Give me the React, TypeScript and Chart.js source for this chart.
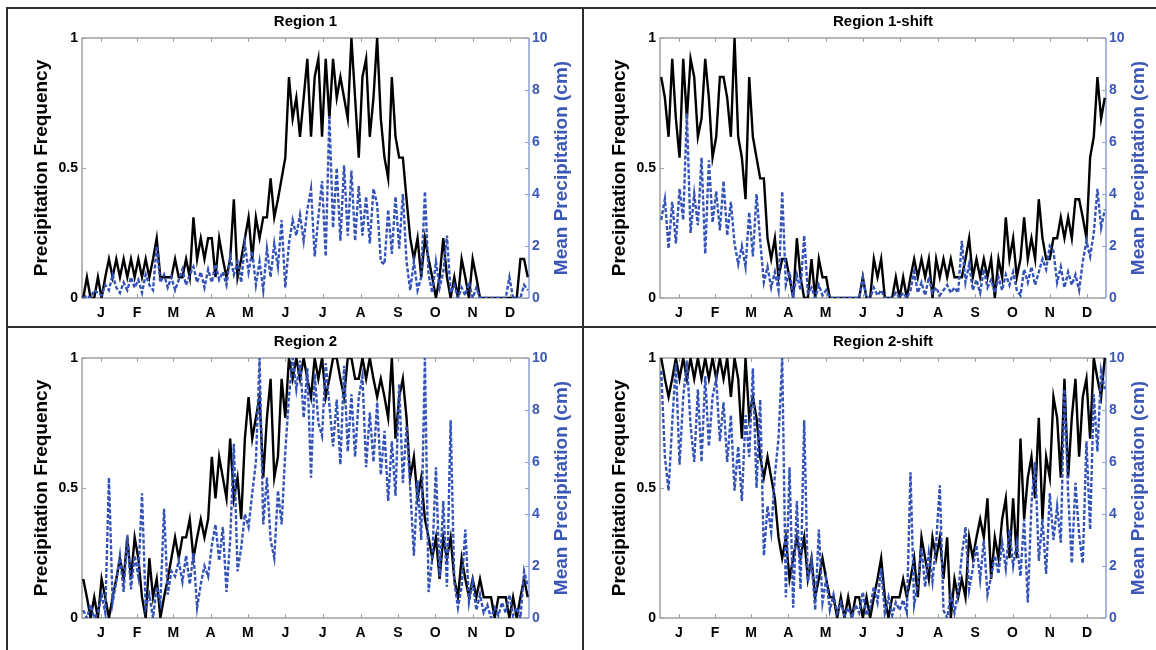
import React, { useEffect, useRef } from 'react';
import { Chart, registerables } from 'chart.js';

Chart.register(...registerables);

// ---------- data ----------
const monthLabels = ['J', 'F', 'M', 'A', 'M', 'J', 'J', 'A', 'S', 'O', 'N', 'D'];
const monthMidDays = [15.5, 45, 74.5, 105, 135.5, 166, 196.5, 227.5, 258, 288.5, 319, 349.5];
const freqTicks = [0, 0.5, 1];
const freqTickLabels = ['0', '0.5', '1'];
const precipTicks = [0, 2, 4, 6, 8, 10];
const sampleStepDays = 3; // one value every 3 days, starting Jan 1

const region1Freq = [
  0, .08, 0, 0, .08, 0, .08, .15, .08, .15, .08, .15, .08, .15, .08, .15, .08, .15, .08, .15,
  .23, .08, .08, .08, .08, .15, .08, .08, .15, .08, .31, .15, .23, .15, .23, .23, .08, .23, .15, .08,
  .15, .38, .08, .15, .23, .31, .15, .31, .23, .31, .31, .46, .31, .38, .46, .54, .85, .69, .77, .62,
  .77, .92, .62, .85, .92, .62, .92, .69, .92, .77, .85, .77, .69, 1, .77, .54, .85, .92, .62, .77,
  1, .69, .54, .46, .85, .62, .54, .54, .38, .23, .15, .23, .08, .23, .15, .08, 0, .08, .23, .08,
  0, .08, 0, .15, .08, 0, .15, .08, 0, 0, 0, 0, 0, 0, 0, 0, 0, 0, 0, .15,
  .15, .08,
];
const region1Precip = [
  0, .1, 0, .3, .2, .1, .5, .3, .9, .4, .2, .6, .3, .8, .4, .7, .2, .9, .5, .3,
  2.0, .6, .9, .4, .8, .3, .7, 1.1, .5, .9, 1.2, .6, 1.0, .4, 1.1, .6, 1.3, .7, 1.0, .5,
  1.6, .9, 1.4, .6, 2.1, 1.0, 1.8, .5, 1.4, .3, 1.9, .8, 2.1, 1.2, 3.0, .4, 2.1, 3.0, 2.4, 3.2,
  2.2, 3.4, 4.2, 1.6, 3.1, 4.5, 1.6, 7.0, 2.7, 5.0, 2.2, 5.1, 2.4, 4.9, 2.2, 4.3, 2.4, 3.9, 2.1, 4.2,
  3.6, 1.4, 1.3, 3.4, 1.7, 3.9, 1.9, 4.0, 1.4, .3, 1.4, .3, .8, 4.1, .9, .2, 1.4, .4, 1.0, 2.4,
  .2, .5, 0, .4, .1, .6, 0, .4, 0, 0, 0, 0, 0, 0, 0, 0, .8, 0, 0, 0,
  .5, .3,
];

const region1ShiftFreq = [
  .85, .77, .62, .92, .69, .54, .92, .69, .92, .85, .62, .69, .92, .77, .54, .62, .85, .85, .77, .62,
  1, .62, .54, .38, .85, .62, .54, .46, .46, .23, .15, .23, .08, .15, .15, .08, 0, .23, .08, 0,
  0, .15, 0, .15, .08, .08, 0, 0, 0, 0, 0, 0, 0, 0, 0, .08, 0, 0, .15, .08,
  .15, 0, 0, 0, .08, 0, .08, 0, .08, .15, .08, .15, .08, .15, 0, .15, .08, .15, .08, .15,
  .08, .08, .08, .15, .23, .08, .15, .08, .15, .08, .15, 0, .15, .08, .31, .15, .23, .08, .15, .31,
  .15, .23, .15, .38, .23, .15, .15, .23, .23, .31, .23, .31, .23, .38, .38, .31, .23, .54, .62, .85,
  .69, .77,
];
const region1ShiftPrecip = [
  3.0, 3.8, 1.9, 3.7, 2.1, 4.2, 3.0, 7.1, 2.5, 4.0, 2.8, 5.4, 1.7, 5.3, 2.9, 4.1, 2.6, 4.5, 2.4, 3.7,
  2.1, 1.3, 2.0, 1.2, 3.3, 1.6, 4.0, 2.2, .6, 1.2, .4, 1.0, .3, 4.1, .5, 1.0, .1, .9, .3, 2.4,
  .2, .4, 0, .5, .1, .3, 0, 0, 0, 0, 0, 0, 0, 0, 0, .8, 0, 0, .4, .1,
  .3, 0, 0, 0, .2, 0, .2, 0, .3, 1.0, .2, .6, .1, .8, .2, .4, .1, .3, .5, .2,
  .4, .2, 2.2, .6, 1.3, .3, .7, .2, 1.1, .4, .7, .2, .8, .3, .9, .5, 1.0, .3, .1, 1.1,
  .6, 1.2, .5, 1.0, 1.5, 1.1, 2.0, 1.8, .6, 1.2, .4, 1.0, .5, .9, .3, 1.4, 2.2, 1.6, 2.5, 4.2,
  2.7, 3.4,
];

const region2Freq = [
  .15, .08, 0, .08, 0, .15, .08, 0, .08, .15, .23, .15, .31, .15, .31, .23, .08, 0, .23, .08,
  .15, 0, .08, .15, .23, .31, .23, .31, .31, .38, .23, .31, .38, .31, .38, .62, .46, .62, .54, .46,
  .69, .46, .54, .38, .69, .85, .69, .77, .85, .54, .77, .92, .54, .62, .92, .77, 1, .92, 1, .92,
  1, .92, .85, 1, .92, 1, .85, .92, 1, 1, .92, .85, 1, 1, .92, .92, 1, .92, 1, .92,
  .85, .92, .85, .77, 1, .69, .85, .92, .77, .54, .62, .46, .54, .38, .31, .23, .31, .15, .31, .23,
  .31, .15, .08, .23, .15, .08, .15, .08, .15, .08, .08, .08, 0, .08, .08, .08, 0, .08, 0, .08,
  .15, .08,
];
const region2Precip = [
  .3, 0, .5, 0, .2, .9, .2, 5.4, .6, 1.4, 2.4, 1.0, 3.2, 1.1, 2.4, 1.6, 4.8, .4, .9, 0,
  1.2, .6, 4.2, .9, 1.8, 1.6, 2.2, 1.4, 2.4, 1.3, 2.5, .4, 1.3, 2.0, 1.6, 2.8, 3.6, 2.2, 3.5, 1.0,
  3.0, 6.7, 1.8, 2.7, 4.0, 3.5, 4.8, 6.0, 10, 3.6, 5.4, 3.0, 2.3, 4.9, 3.6, 6.4, 8.5, 10, 8.8, 9.9,
  7.7, 9.6, 5.4, 9.4, 7.5, 7.0, 9.8, 8.2, 6.6, 8.4, 5.9, 9.7, 6.4, 8.6, 6.2, 8.5, 9.3, 5.8, 7.9, 6.0,
  8.3, 5.5, 7.2, 4.5, 6.8, 4.7, 9.0, 5.2, 7.4, 5.0, 2.4, 5.3, 3.0, 10, 1.0, 2.3, 5.8, 1.6, 4.5, 1.2,
  7.6, 1.4, .4, 1.2, 3.4, .6, 1.4, .3, .9, .2, .5, 0, .4, .1, .6, .2, .9, .1, .4, 0,
  1.8, 1.2,
];

const region2ShiftFreq = [
  1, .92, .85, .92, 1, .92, 1, .92, 1, .92, 1, .92, 1, .92, 1, .92, 1, .92, 1, .85,
  1, .92, .69, 1, .77, .85, .77, .62, .54, .62, .54, .46, .31, .23, .31, .15, .23, .31, .23, .31,
  .15, .23, .08, .15, .23, .15, .08, .08, 0, .08, 0, .08, 0, .08, .08, 0, .08, 0, .08, .15,
  .23, .08, 0, .08, .08, .08, .15, .08, .15, .23, .08, .31, .23, .15, .31, .23, .31, .15, .31, 0,
  .15, .08, .15, .08, .31, .23, .31, .38, .31, .46, .15, .31, .23, .38, .46, .23, .46, .23, .69, .38,
  .54, .62, .46, .77, .38, .62, .54, .85, .77, .54, .92, .54, .77, .92, .62, .85, .92, .69, 1, .92,
  .85, 1,
];
const region2ShiftPrecip = [
  9.5, 6.2, 4.9, 7.5, 9.8, 5.9, 8.5, 9.9, 7.4, 6.0, 8.8, 6.0, 9.3, 6.6, 8.5, 9.2, 6.8, 8.3, 6.0, 7.8,
  4.9, 6.6, 4.5, 7.8, 6.2, 9.6, 5.0, 8.4, 2.4, 4.3, 3.3, 5.5, 6.9, 10, .8, 5.8, .4, 4.5, 1.1, 7.6,
  1.4, 2.2, .3, 3.4, .6, 1.5, .3, .9, .2, .6, .1, .4, 0, .5, .2, 1.0, .1, .4, 1.2, .6,
  1.9, .2, .8, .1, .6, .3, .7, .2, 5.6, .5, 1.3, 2.7, 1.2, 2.5, 1.4, 2.9, 5.1, .3, 0, .9,
  .2, 1.0, 2.4, 3.5, 1.1, 1.9, 2.8, 1.5, 3.0, .9, 1.6, 2.4, 1.7, 2.9, 1.9, 3.4, 2.0, 2.9, 1.6, 3.8,
  .6, 4.4, 6.0, 2.2, 3.8, 1.7, 4.8, 3.0, 4.3, 2.9, 8.8, 4.8, 2.1, 5.2, 3.2, 2.1, 6.8, 3.4, 8.6, 6.4,
  9.5, 8.8,
];

// ---------- style ----------
const FONT = 'Arial, "Liberation Sans", Helvetica, sans-serif';
const LINE_BLUE = '#3453b8';
const TEXT_BLUE = '#3b58b6';
const AXIS_BLUE = '#8e9fd6';
const FRAME_GRAY = '#a0a0a0';

const decorPlugin = {
  id: 'decor',
  beforeDatasetsDraw(chart: any) {
    const { ctx, chartArea } = chart;
    const { left, right, top, bottom } = chartArea;
    const xs = chart.scales.x;
    const yL = chart.scales.y;
    const yR = chart.scales.y1;
    const seg = (x1: number, y1: number, x2: number, y2: number) => {
      ctx.beginPath();
      ctx.moveTo(x1, y1);
      ctx.lineTo(x2, y2);
      ctx.stroke();
    };
    ctx.save();
    ctx.lineWidth = 1.5;
    ctx.strokeStyle = FRAME_GRAY;
    ctx.beginPath();
    ctx.moveTo(right, top);
    ctx.lineTo(left, top);
    ctx.lineTo(left, bottom);
    ctx.lineTo(right, bottom);
    ctx.stroke();
    ctx.lineWidth = 1;
    monthMidDays.forEach((d) => {
      const x = Math.round(xs.getPixelForValue(d)) + 0.5;
      seg(x, top, x, top + 4);
      seg(x, bottom, x, bottom - 4);
    });
    freqTicks.forEach((v) => {
      const y = Math.round(yL.getPixelForValue(v)) + 0.5;
      seg(left, y, left + 4, y);
      seg(right - 4, y, right, y);
    });
    ctx.strokeStyle = AXIS_BLUE;
    precipTicks.forEach((v) => {
      const y = Math.round(yR.getPixelForValue(v)) + 0.5;
      seg(right - 4, y, right, y);
    });
    ctx.lineWidth = 1.5;
    seg(right, top, right, bottom);
    ctx.restore();
  },
  afterDraw(chart: any, _args: any, opts: any) {
    const { ctx, chartArea } = chart;
    const { left, right, top, bottom } = chartArea;
    const midY = (top + bottom) / 2;
    ctx.save();
    ctx.textAlign = 'center';
    ctx.textBaseline = 'middle';
    ctx.fillStyle = '#000';
    ctx.font = `bold 15px ${FONT}`;
    ctx.fillText(opts.title, (left + right) / 2, top - 16);

    ctx.font = `bold 19px ${FONT}`;
    ctx.save();
    ctx.translate(left - 40, midY);
    ctx.rotate(-Math.PI / 2);
    ctx.fillStyle = '#000';
    ctx.fillText('Precipitation Frequency', 0, 0);
    ctx.restore();

    ctx.save();
    ctx.translate(right + 33, midY);
    ctx.rotate(-Math.PI / 2);
    ctx.fillStyle = TEXT_BLUE;
    ctx.fillText('Mean Precipitation (cm)', 0, 0);
    ctx.restore();
    ctx.restore();
  },
};

type PanelProps = {
  title: string;
  freq: number[];
  precip: number[];
  left: number;
  top: number;
  width: number;
  height: number;
  leftW: number;
  rightW: number;
  bottomH: number;
};

function Panel(p: PanelProps) {
  const ref = useRef<HTMLCanvasElement>(null);
  useEffect(() => {
    if (!ref.current) return;
    const toPts = (arr: number[]) => arr.map((v, i) => ({ x: 1 + sampleStepDays * i, y: v }));
    const tickFont = { family: FONT, size: 14, weight: 'bold' as const };
    const chart = new Chart(ref.current, {
      type: 'line',
      data: {
        datasets: [
          {
            label: 'Mean Precipitation (cm)',
            data: toPts(p.precip),
            yAxisID: 'y1',
            borderColor: LINE_BLUE,
            borderWidth: 2.4,
            borderDash: [4, 2],
            pointRadius: 0,
            tension: 0,
            fill: false,
          },
          {
            label: 'Precipitation Frequency',
            data: toPts(p.freq),
            yAxisID: 'y',
            borderColor: '#000',
            borderWidth: 2.4,
            pointRadius: 0,
            tension: 0,
            fill: false,
          },
        ],
      },
      options: {
        responsive: false,
        animation: false,
        events: [],
        layout: { padding: { top: 28, left: 0, right: 0, bottom: 0 } },
        plugins: {
          legend: { display: false },
          tooltip: { enabled: false },
          decor: { title: p.title },
        } as any,
        scales: {
          x: {
            type: 'linear',
            min: 0,
            max: 365,
            grid: { display: false, drawTicks: false },
            border: { display: false },
            afterBuildTicks: (s: any) => {
              s.ticks = monthMidDays.map((v) => ({ value: v }));
            },
            ticks: {
              autoSkip: false,
              maxRotation: 0,
              padding: 7,
              color: '#000',
              font: tickFont,
              callback: (_v: any, i: number) => monthLabels[i],
            },
            afterFit: (s: any) => {
              s.height = p.bottomH;
            },
          },
          y: {
            position: 'left',
            min: 0,
            max: 1,
            grid: { display: false, drawTicks: false },
            border: { display: false },
            afterBuildTicks: (s: any) => {
              s.ticks = freqTicks.map((v) => ({ value: v }));
            },
            ticks: {
              padding: 4,
              color: '#000',
              font: tickFont,
              callback: (_v: any, i: number) => freqTickLabels[i],
            },
            afterFit: (s: any) => {
              s.width = p.leftW;
            },
          },
          y1: {
            position: 'right',
            min: 0,
            max: 10,
            grid: { display: false, drawTicks: false },
            border: { display: false },
            afterBuildTicks: (s: any) => {
              s.ticks = precipTicks.map((v) => ({ value: v }));
            },
            ticks: { padding: 3, color: TEXT_BLUE, font: tickFont },
            afterFit: (s: any) => {
              s.width = p.rightW;
            },
          },
        } as any,
      },
      plugins: [decorPlugin as any],
    });
    return () => chart.destroy();
  }, []);
  return (
    <canvas
      ref={ref}
      width={p.width}
      height={p.height}
      style={{ position: 'absolute', left: p.left, top: p.top, width: p.width, height: p.height }}
    />
  );
}

const LINE_DARK = '#2e2e2e';

export default function App() {
  return (
    <div
      style={{
        position: 'absolute',
        left: 0,
        top: 0,
        width: 1156,
        height: 650,
        background: '#fff',
        overflow: 'hidden',
      }}
    >
      <div style={{ position: 'absolute', left: 6, top: 7, width: 1150, height: 2, background: LINE_DARK }} />
      <div style={{ position: 'absolute', left: 6, top: 7, width: 2, height: 643, background: LINE_DARK }} />
      <div style={{ position: 'absolute', left: 6, top: 326, width: 1150, height: 2, background: LINE_DARK }} />
      <div style={{ position: 'absolute', left: 582, top: 7, width: 2, height: 643, background: LINE_DARK }} />
      <Panel title="Region 1" freq={region1Freq} precip={region1Precip}
        left={8} top={10} width={574} height={316} leftW={74} rightW={53} bottomH={28} />
      <Panel title="Region 1-shift" freq={region1ShiftFreq} precip={region1ShiftPrecip}
        left={585} top={10} width={571} height={316} leftW={75} rightW={50} bottomH={28} />
      <Panel title="Region 2" freq={region2Freq} precip={region2Precip}
        left={8} top={330} width={574} height={320} leftW={74} rightW={53} bottomH={32} />
      <Panel title="Region 2-shift" freq={region2ShiftFreq} precip={region2ShiftPrecip}
        left={585} top={330} width={571} height={320} leftW={75} rightW={50} bottomH={32} />
    </div>
  );
}
